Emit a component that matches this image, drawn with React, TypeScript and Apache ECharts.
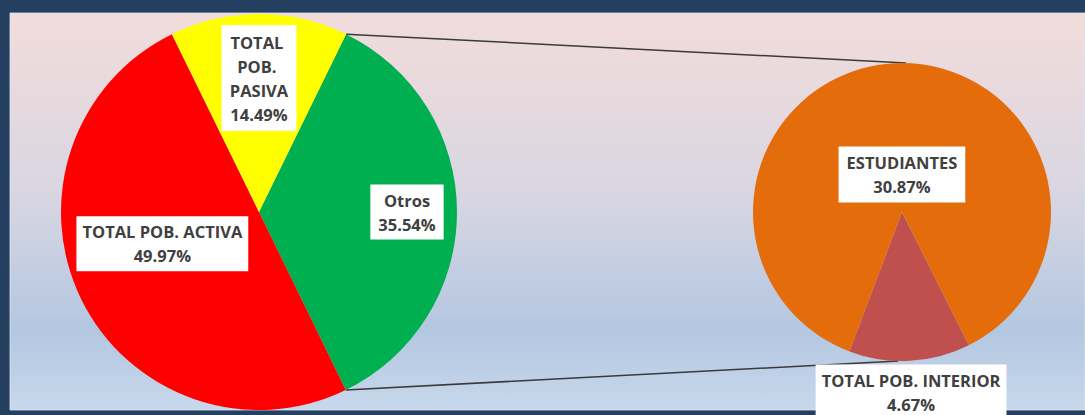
import React, { useEffect, useRef } from "react";
import * as echarts from "echarts";

// ---- data ----
const mainNames = ["Otros", "TOTAL POB. ACTIVA", "TOTAL POB. PASIVA"];
const mainValues = [35.54, 49.97, 14.49];
const mainColors = ["#00b050", "#ff0000", "#ffff00"];

const subNames = ["TOTAL POB. INTERIOR", "ESTUDIANTES"];
const subValues = [4.67, 30.87];
const subColors = ["#c0504d", "#e46c0a"];

// label nudges (px) relative to ECharts' default inside position
const mainLabelShift = [
  [46, 0],
  [-5, -13],
  [0, -32],
];
const subLabelShift = [
  [5, 103],
  [4, 40],
];

const W = 1085;
const H = 415;
const mainCenter = [259, 212];
const mainR = 198;
const subCenter = [902, 212];
const subR = 149;

export default function App() {
  const ref = useRef<HTMLDivElement>(null);

  useEffect(() => {
    document.body.style.margin = "0";
    if (!ref.current) return;
    const chart = echarts.init(ref.current, null, { renderer: "svg" });

    const mainTotal = mainValues.reduce((a, b) => a + b, 0);
    const otrosDeg = (mainValues[0] / mainTotal) * 360;
    const pasivaDeg = (mainValues[2] / mainTotal) * 360;
    // yellow slice centred on 12 o'clock; green slice starts at its right edge
    const mainStart = 90 - pasivaDeg / 2;
    const a1 = (mainStart * Math.PI) / 180;
    const a2 = ((mainStart - otrosDeg) * Math.PI) / 180;
    const p1 = [mainCenter[0] + mainR * Math.cos(a1), mainCenter[1] - mainR * Math.sin(a1)];
    const p2 = [mainCenter[0] + mainR * Math.cos(a2), mainCenter[1] - mainR * Math.sin(a2)];

    const subTotal = subValues.reduce((a, b) => a + b, 0);
    const interiorDeg = (subValues[0] / subTotal) * 360;
    const subStart = -90 + interiorDeg / 2 + 3;

    const labelStyle = {
      show: true,
      position: "inside" as const,
      color: "#404040",
      fontWeight: "bold" as const,
      fontSize: 16.5,
      lineHeight: 24,
      fontFamily: "'Open Sans', Lato, sans-serif",
      backgroundColor: "#ffffff",
      padding: [4, 6, 3, 6],
      align: "center" as const,
    };

    chart.setOption({
      animation: false,
      graphic: [
        {
          type: "rect",
          z: -10,
          silent: true,
          shape: { x: 0, y: 0, width: W, height: H },
          style: { fill: "#243f60" },
        },
        {
          type: "rect",
          z: -9,
          silent: true,
          shape: { x: 10, y: 13, width: W - 10, height: 397 },
          style: {
            fill: new echarts.graphic.LinearGradient(0, 0, 0, 1, [
              { offset: 0, color: "#f2dcdb" },
              { offset: 0.45, color: "#d9d6e2" },
              { offset: 0.8, color: "#b3c7e1" },
              { offset: 1, color: "#c8d8ec" },
            ]),
            stroke: "rgba(220,230,245,0.8)",
            lineWidth: 1,
          },
        },
        {
          type: "line",
          z: 1,
          silent: true,
          shape: { x1: p1[0], y1: p1[1], x2: subCenter[0] + 4, y2: subCenter[1] - subR },
          style: { stroke: "#3a3a3a", lineWidth: 1.5 },
        },
        {
          type: "line",
          z: 1,
          silent: true,
          shape: { x1: p2[0], y1: p2[1], x2: subCenter[0] - 4, y2: subCenter[1] + subR },
          style: { stroke: "#3a3a3a", lineWidth: 1.5 },
        },
      ],
      series: [
        {
          type: "pie",
          center: mainCenter,
          radius: [0, mainR],
          startAngle: mainStart,
          clockwise: true,
          avoidLabelOverlap: false,
          labelLine: { show: false },
          itemStyle: { borderWidth: 0 },
          emphasis: { disabled: true },
          data: mainNames.map((n, i) => ({
            name: n,
            value: mainValues[i],
            itemStyle: { color: mainColors[i] },
            label: {
              ...labelStyle,
              formatter: (p: any) => `${p.name}\n${p.value.toFixed(2)}%`,
              ...(i === 0 ? { padding: [4, 8, 3, 8] } : {}),
              ...(i === 2 ? { width: 63, overflow: "break", padding: [4, 6, 6, 6] } : {}),
            },
          })),
          labelLayout: (p: any) => ({
            dx: mainLabelShift[p.dataIndex][0],
            dy: mainLabelShift[p.dataIndex][1],
          }),
        },
        {
          type: "pie",
          center: subCenter,
          radius: [0, subR],
          startAngle: subStart,
          clockwise: true,
          avoidLabelOverlap: false,
          labelLine: { show: false },
          itemStyle: { borderWidth: 0 },
          emphasis: { disabled: true },
          data: subNames.map((n, i) => ({
            name: n,
            value: subValues[i],
            itemStyle: { color: subColors[i] },
            label: {
              ...labelStyle,
              padding: i === 1 ? [4, 8, 4, 8] : [4, 6, 4, 6],
              formatter: (p: any) => `${p.name}\n${p.value.toFixed(2)}%`,
            },
          })),
          labelLayout: (p: any) => ({
            dx: subLabelShift[p.dataIndex][0],
            dy: subLabelShift[p.dataIndex][1],
          }),
        },
      ],
    });

    return () => chart.dispose();
  }, []);

  return <div ref={ref} style={{ width: W, height: H }} />;
}
